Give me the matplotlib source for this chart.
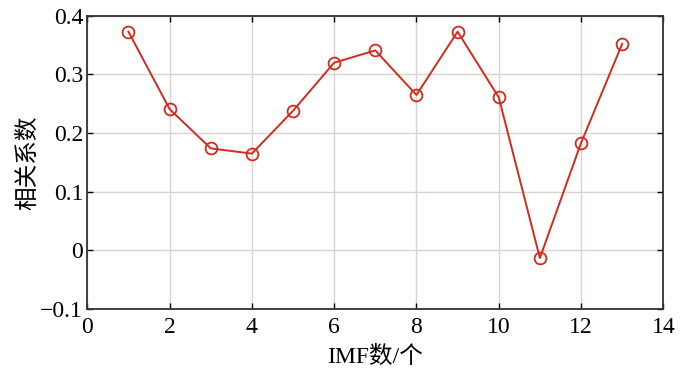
import numpy as np
import matplotlib
matplotlib.use("Agg")
import matplotlib.pyplot as plt

plt.rcParams['font.family'] = ['Liberation Serif', 'Noto Sans CJK SC']

imf_num = [1, 2, 3, 4, 5, 6, 7, 8, 9, 10, 11, 12, 13]
corr = [0.373, 0.241, 0.174, 0.165, 0.238, 0.320, 0.341, 0.265, 0.373, 0.261, -0.013, 0.183, 0.352]

fig = plt.figure(figsize=(7, 3.76), dpi=100)
ax = fig.add_axes([0.1247, 0.178, 0.8229, 0.780])

ax.plot(imf_num, corr, color="#d42a1e", linewidth=1.4, marker="o",
        markersize=8.5, markerfacecolor="none", markeredgewidth=1.3)

ax.set_xlim(0, 14)
ax.set_ylim(-0.1, 0.4)
ax.set_xticks(np.arange(0, 15, 2))
ax.set_yticks([-0.1, 0, 0.1, 0.2, 0.3, 0.4])
ax.set_yticklabels(["\u22120.1", "0", "0.1", "0.2", "0.3", "0.4"])

ax.grid(True, color="#dcd3d0", linewidth=1.0)
ax.tick_params(direction="in", top=True, right=True, length=4, width=1,
               labelsize=17)
ax.tick_params(axis="x", pad=6)
ax.tick_params(axis="y", pad=3)
for s in ax.spines.values():
    s.set_linewidth(1.3)
    s.set_color("#333333")

ax.set_xlabel("IMF数/个", fontsize=17, labelpad=5)
ax.set_ylabel("相关系数", fontsize=17, labelpad=1)

fig.savefig("out.png", dpi=100)
